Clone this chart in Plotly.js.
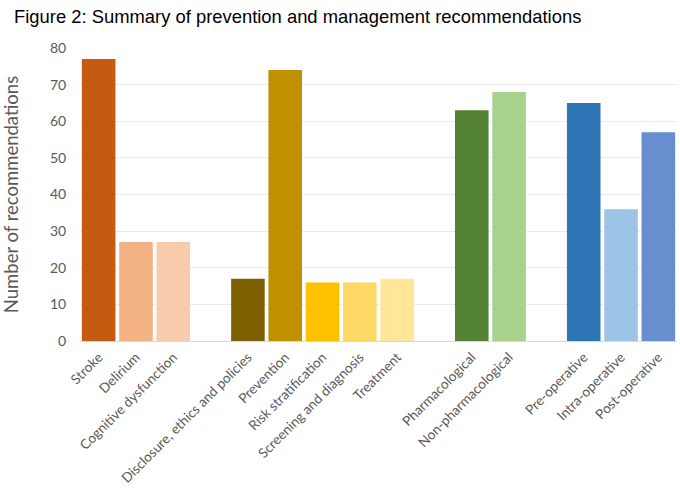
<!DOCTYPE html>
<html>
<head>
<meta charset="utf-8">
<script src="https://cdn.plot.ly/plotly-3.0.1.min.js"></script>
<style>
  html, body { margin: 0; padding: 0; background: #fff; }
  #chart { width: 680px; height: 494px; }
</style>
</head>
<body>
<div id="chart"></div>
<script>
// categories, with blank spacer slots between the groups
var categories = [
  'Stroke', 'Delirium', 'Cognitive dysfunction', ' ',
  'Disclosure, ethics and policies', 'Prevention', 'Risk stratification',
  'Screening and diagnosis', 'Treatment', '  ',
  'Pharmacological', 'Non-pharmacological', '   ',
  'Pre-operative', 'Intra-operative', 'Post-operative'
];
var counts = [77, 27, 27, null, 17, 74, 16, 16, 17, null, 63, 68, null, 65, 36, 57];
var barColors = [
  '#C55A11', '#F4B183', '#F8CBAD', '#ffffff',
  '#7F6000', '#BF9000', '#FFC000', '#FFD966', '#FFE699', '#ffffff',
  '#548235', '#A9D18E', '#ffffff',
  '#2E75B6', '#9DC3E6', '#698ED0'
];

var trace = {
  type: 'bar',
  x: categories,
  y: counts,
  marker: {color: barColors, line: {width: 0}},
  hoverinfo: 'x+y'
};

var layout = {
  width: 680,
  height: 494,
  margin: {l: 80, r: 3, t: 48, b: 153},
  paper_bgcolor: '#ffffff',
  plot_bgcolor: '#ffffff',
  bargap: 0.1,
  showlegend: false,
  title: {
    text: 'Figure 2: Summary of prevention and management recommendations',
    font: {family: 'Liberation Sans, Arial, sans-serif', size: 18.4, color: '#000000'},
    x: 14 / 680, xref: 'container', xanchor: 'left',
    y: 1 - 17 / 494, yref: 'container', yanchor: 'middle'
  },
  xaxis: {
    type: 'category',
    tickangle: -45,
    tickfont: {family: 'Lato, Noto Sans, sans-serif', size: 13.6, color: '#595959'},
    showgrid: false,
    showline: true,
    linecolor: '#d9d9d9',
    linewidth: 1,
    ticks: 'outside',
    ticklen: 2,
    tickcolor: 'rgba(0,0,0,0)',
    fixedrange: true
  },
  yaxis: {
    range: [0, 80],
    dtick: 10,
    tickfont: {family: 'Lato, Noto Sans, sans-serif', size: 14, color: '#595959'},
    gridcolor: '#ebebeb',
    gridwidth: 1,
    zeroline: false,
    showline: false,
    ticks: 'outside',
    ticklen: 10,
    tickcolor: 'rgba(0,0,0,0)',
    title: {
      text: 'Number of recommendations',
      font: {family: 'Lato, Noto Sans, sans-serif', size: 18.5, color: '#595959'},
      standoff: 28
    },
    fixedrange: true
  }
};

Plotly.newPlot('chart', [trace], layout, {displayModeBar: false, staticPlot: true});
</script>
</body>
</html>
